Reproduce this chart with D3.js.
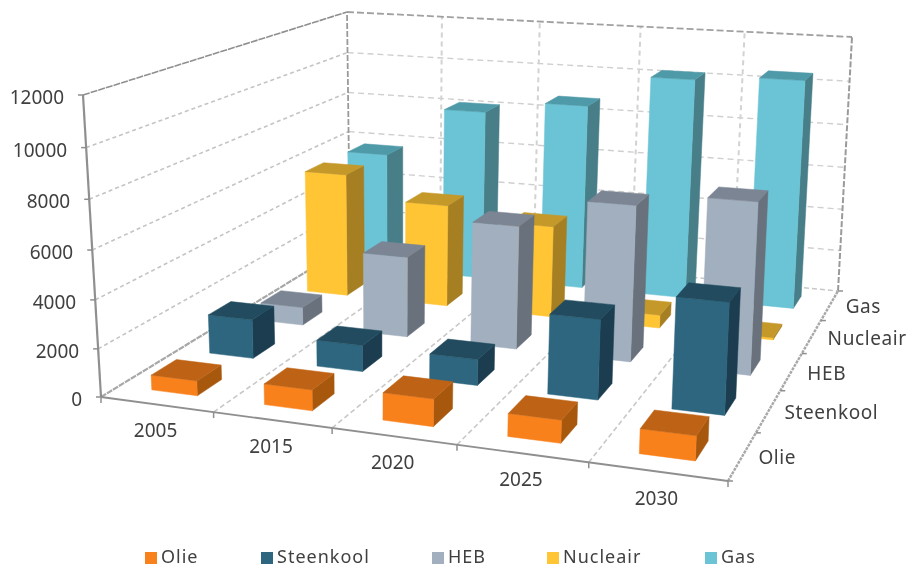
<!DOCTYPE html>
<html><head><meta charset="utf-8">
<script src="https://cdn.jsdelivr.net/npm/d3@7"></script>
<style>html,body{margin:0;background:#fff}svg{display:block}text{font-family:"Noto Sans",sans-serif;fill:#404040}</style>
</head><body><div id="c"></div>
<script>
const years = ["2005","2015","2020","2025","2030"];
const seriesNames = ["Olie","Steenkool","HEB","Nucleair","Gas"];
const olie = [620,850,1100,900,950];
const steenkool = [1700,1130,1100,3300,4500];
const heb = [820,3600,5400,6700,7250];
const nucleair = [5800,4750,4200,600,100];
const gas = [5750,8150,8750,10250,10500];
const yTicks = [0,2000,4000,6000,8000,10000,12000];
const faceColors = ["#F9811E","#2D667F","#A2AFBE","#FFC535","#6BC4D5"];
const topColors = ["#BE6416","#204C5E","#7B8593","#C5982B","#509AA8"];
const sideColors = ["#A85810","#1A3D4F","#69717D","#A67F22","#477E88"];
const legendX = [145,261,432,547,705];

const W=909,H=568;
const values=[olie,steenkool,heb,nucleair,gas];
const root=d3.select("#c").append("svg").attr("width",W).attr("height",H);
root.append("defs").append("filter").attr("id","soft").attr("x",0).attr("y",0).attr("width",1).attr("height",1)
  .attr("filterUnits","objectBoundingBox").append("feGaussianBlur").attr("stdDeviation",0.4);
root.append("rect").attr("width",W).attr("height",H).attr("fill","#fff");
const svg=root.append("g").attr("filter","url(#soft)");
svg.append("rect").attr("width",W).attr("height",H).attr("fill","#fff");

function homography(q){
  const [[x0,y0],[x1,y1],[x2,y2],[x3,y3]]=q;
  const sx=x0-x1+x2-x3,sy=y0-y1+y2-y3,dx1=x1-x2,dx2=x3-x2,dy1=y1-y2,dy2=y3-y2;
  const det=dx1*dy2-dx2*dy1,g=(sx*dy2-dx2*sy)/det,h=(dx1*sy-sx*dy1)/det;
  const a=x1-x0+g*x1,b=x3-x0+h*x3,d=y1-y0+g*y1,e=y3-y0+h*y3;
  return (u,v)=>{const w=g*u+h*v+1;return [(a*u+b*v+x0)/w,(d*u+e*v+y0)/w];};
}
// plot box: front-left, front-right, back-right, back-left
const floor=homography([[101,397],[728,481],[838,291],[350,245]]);
const ceil=homography([[83,95],[741.5,138],[852,37],[347,12]]);

const xBand=d3.scaleBand().domain(years).range([0,1]);
const dBand=d3.scaleBand().domain(seriesNames).range([0,1]);
const zScale=d3.scaleLinear().domain([0,12000]).range([0,1]);
const zPersp=0.948;
const project=(u,v,val)=>{
  const a=floor(u,v),b=ceil(u,v),z=zScale(val),t=z*zPersp/(1+(zPersp-1)*z);
  return [a[0]+(b[0]-a[0])*t,a[1]+(b[1]-a[1])*t];
};
const line=d3.line();
const stroke=(pts,col,w,dash)=>svg.append("path").attr("d",line(pts)).attr("fill","none")
  .attr("stroke",col).attr("stroke-width",w).attr("stroke-dasharray",dash||null);

const xEdges=years.map(y=>xBand(y)).concat([1]);
const dEdges=seriesNames.map(s=>dBand(s)).concat([1]);
const zMax=yTicks[yTicks.length-1];

// gridlines
yTicks.slice(1,-1).forEach(t=>{
  stroke([project(0,0,t),project(0,1,t)],"#c4c4c4",1.6,"4 3");
  stroke([project(0,1,t),project(1,1,t)],"#cfcfcf",1.4,"6 4");
});
xEdges.slice(1,-1).forEach(u=>{
  stroke([project(u,1,0),project(u,1,zMax)],"#d2d2d2",2,"5 4");
  stroke([project(u,0,0),project(u,1,0)],"#c8c8c8",1.6,"5 3");
});
// frame
stroke([project(0,0,zMax),project(0,1,zMax)],"#8f8f8f",1.6,"7 1");
stroke([project(0,1,zMax),project(1,1,zMax)],"#a0a0a0",1.8,"7 3");
stroke([project(0,1,0),project(0,1,zMax)],"#9a9a9a",1.8,"6 2");
stroke([project(1,1,0),project(1,1,zMax)],"#9a9a9a",2,"6 2");
stroke([project(0,1,0),project(1,1,0)],"#c8c8c8",1.4,"5 3");
stroke([project(0,0,0),project(0,1,0)],"#a8a8a8",2.2,"6 1");
stroke([project(1,0,0),project(1,1,0)],"#a8a8a8",2.4,"3 1");
stroke([project(0,0,0),project(0,0,zMax)],"#8f8f8f",2.2);
stroke([project(0,0,0),project(1,0,0)],"#8f8f8f",1.8);

// ticks
yTicks.forEach(t=>{const p=project(0,0,t);stroke([[p[0]-5,p[1]],p],"#8f8f8f",1.5);
  svg.append("text").attr("x",p[0]-19).attr("y",p[1]+2).attr("text-anchor","end")
   .attr("dominant-baseline","central").attr("font-size",19).text(t);});
xEdges.forEach(u=>{const p=project(u,0,0);stroke([p,[p[0],p[1]+6]],"#8f8f8f",1.5);});
dEdges.forEach(v=>{const p=project(1,v,0);stroke([p,[p[0]+5,p[1]]],"#8f8f8f",1.5);});
years.forEach(y=>{const p=project(xBand(y)+xBand.bandwidth()/2,0,0);
  svg.append("text").attr("x",p[0]-1).attr("y",p[1]+26).attr("text-anchor","middle")
   .attr("dominant-baseline","central").attr("font-size",19).text(y);});
seriesNames.forEach(s=>{const p=project(1,dBand(s)+dBand.bandwidth()/2,0);
  svg.append("text").attr("x",p[0]+16).attr("y",p[1]+1).attr("dominant-baseline","central")
   .attr("font-size",19).attr("letter-spacing",0.6).text(s);});

// bars, back to front
const wFrac=0.41,dFrac=0.42;
const poly=(pts,col)=>svg.append("path").attr("d",line(pts)+"Z").attr("fill",col).attr("stroke",col).attr("stroke-width",0.5);
d3.range(seriesNames.length-1,-1,-1).forEach(si=>{
  years.forEach((y,xi)=>{
    const val=values[si][xi];
    const bw=xBand.bandwidth(),bd=dBand.bandwidth();
    const u0=xBand(y)+bw*(1-wFrac)/2,u1=u0+bw*wFrac;
    const v0=dBand(seriesNames[si])+bd*(1-dFrac)/2,v1=v0+bd*dFrac;
    poly([project(u1,v0,0),project(u1,v1,0),project(u1,v1,val),project(u1,v0,val)],sideColors[si]);
    poly([project(u0,v0,0),project(u1,v0,0),project(u1,v0,val),project(u0,v0,val)],faceColors[si]);
    poly([project(u0,v0,val),project(u1,v0,val),project(u1,v1,val),project(u0,v1,val)],topColors[si]);
  });
});

// legend
seriesNames.forEach((s,i)=>{
  svg.append("rect").attr("x",legendX[i]).attr("y",552).attr("width",12).attr("height",12).attr("fill",faceColors[i]);
  svg.append("text").attr("x",legendX[i]+16).attr("y",562.7)
    .attr("font-size",18).attr("letter-spacing",1).text(s);
});
</script></body></html>
